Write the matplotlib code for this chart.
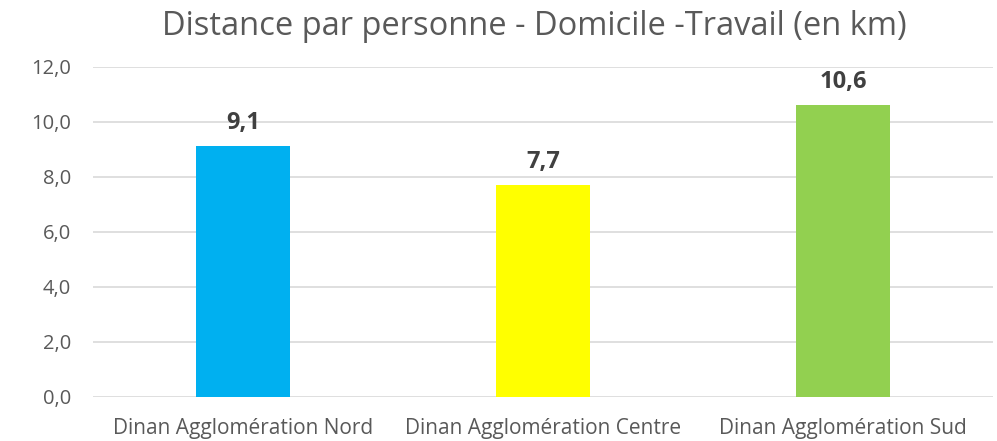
import matplotlib
matplotlib.use("Agg")
import matplotlib.pyplot as plt

categories = ["Dinan Agglomération Nord", "Dinan Agglomération Centre", "Dinan Agglomération Sud"]
values = [9.1, 7.7, 10.6]
colors = ["#00B0F0", "#FFFF00", "#92D050"]
yticks = [0, 2, 4, 6, 8, 10, 12]
title = "Distance par personne - Domicile -Travail (en km)"

plt.rcParams['font.family'] = ['Open Sans', 'DejaVu Sans']

W, H = 997, 441
fig = plt.figure(figsize=(W / 100, H / 100), dpi=100)
ax = fig.add_axes([93 / W, (H - 396.7) / H, 900 / W, (396.7 - 66.7) / H])

x = list(range(len(categories)))
bars = ax.bar(x, values, width=0.315, color=colors, zorder=3)
ax.set_xlim(-0.5, 2.5)
ax.set_ylim(0, 12)
ax.set_yticks(yticks)
ax.set_yticklabels([f"{v:.1f}".replace(".", ",") for v in yticks], fontsize=14.5, color="#595959")
ax.set_xticks(x)
ax.set_xticklabels(categories, fontsize=15, color="#595959")
ax.tick_params(axis="both", length=0)
ax.tick_params(axis="y", pad=16)
ax.tick_params(axis="x", pad=15.5)
ax.grid(axis="y", color="#D9D9D9", linewidth=1.2, zorder=0)
for s in ax.spines.values():
    s.set_visible(False)

for xi, v in zip(x, values):
    ax.annotate(f"{v:.1f}".replace(".", ","), (xi, v), xytext=(0, 12.3), textcoords="offset points",
                ha="center", va="baseline", fontsize=17, fontweight="bold", color="#404040")

fig.text(534 / W, (H - 35) / H, title, ha="center", va="baseline", fontsize=23.5, color="#595959")

fig.savefig("out.png", dpi=100)
